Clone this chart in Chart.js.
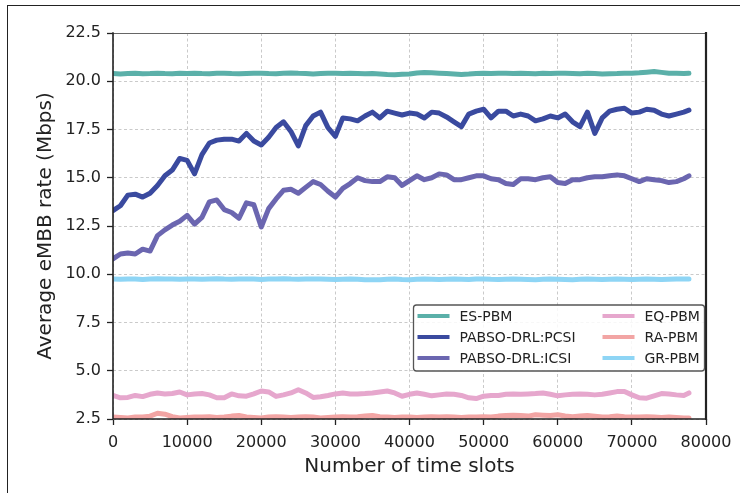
<!DOCTYPE html>
<html>
<head>
<meta charset="utf-8">
<script src="https://cdn.jsdelivr.net/npm/chart.js@4.4.0/dist/chart.umd.min.js"></script>
<style>
  html, body { margin: 0; padding: 0; background: #fff; overflow: hidden; }
  #wrap { position: relative; width: 740px; height: 493px; }
  #frame { position: absolute; left: 7px; top: 5px; width: 800px; height: 600px;
           border-left: 1.6px solid #222; border-top: 1.6px solid #222; pointer-events: none; }
  canvas { display: block; }
</style>
</head>
<body>
<div id="wrap">
  <canvas id="rate-chart" width="740" height="493"></canvas>
  <div id="frame"></div>
</div>
<script>
// time slot sampled every 1000 slots, last sample at the end of the run
const slots = [];
for (let i = 0; i < 78; i++) slots.push(i * 1000);
slots.push(77700);

const labels = ['ES-PBM', 'PABSO-DRL:PCSI', 'PABSO-DRL:ICSI', 'EQ-PBM', 'RA-PBM', 'GR-PBM'];
const colors = ['#5bb0a9', '#3a4a9f', '#6b66b0', '#e6a7cd', '#f2a5a4', '#8ed5f5'];

const esPbm = [
  20.40, 20.38, 20.40, 20.41, 20.39, 20.40, 20.42, 20.40, 20.39, 20.41,
  20.40, 20.42, 20.40, 20.39, 20.41, 20.42, 20.40, 20.39, 20.40, 20.41,
  20.42, 20.40, 20.39, 20.41, 20.43, 20.41, 20.40, 20.38, 20.40, 20.41,
  20.42, 20.40, 20.41, 20.40, 20.39, 20.40, 20.38, 20.35, 20.34, 20.36,
  20.38, 20.43, 20.45, 20.44, 20.42, 20.40, 20.38, 20.35, 20.37, 20.40,
  20.41, 20.40, 20.41, 20.42, 20.40, 20.41, 20.40, 20.39, 20.41, 20.40,
  20.42, 20.41, 20.40, 20.39, 20.41, 20.40, 20.38, 20.39, 20.40, 20.42,
  20.42, 20.44, 20.47, 20.50, 20.46, 20.42, 20.41, 20.40, 20.41
];
const pcsi = [
  13.30, 13.55, 14.10, 14.15, 14.00, 14.20, 14.60, 15.10, 15.40, 16.00,
  15.90, 15.20, 16.20, 16.80, 16.95, 17.00, 17.00, 16.90, 17.30, 16.90,
  16.70, 17.10, 17.60, 17.90, 17.40, 16.65, 17.70, 18.20, 18.40, 17.60,
  17.15, 18.10, 18.05, 17.95, 18.20, 18.40, 18.10, 18.45, 18.35, 18.25,
  18.35, 18.30, 18.10, 18.40, 18.35, 18.15, 17.90, 17.65, 18.30, 18.45,
  18.55, 18.10, 18.45, 18.45, 18.20, 18.30, 18.20, 17.95, 18.05, 18.20,
  18.10, 18.30, 17.90, 17.65, 18.40, 17.30, 18.10, 18.45, 18.55, 18.60,
  18.35, 18.40, 18.55, 18.50, 18.30, 18.20, 18.30, 18.40, 18.50
];
const icsi = [
  10.80, 11.05, 11.10, 11.05, 11.30, 11.20, 12.00, 12.30, 12.55, 12.75,
  13.05, 12.60, 12.95, 13.75, 13.85, 13.35, 13.20, 12.90, 13.70, 13.60,
  12.45, 13.40, 13.90, 14.35, 14.40, 14.20, 14.50, 14.80, 14.65, 14.30,
  14.00, 14.45, 14.70, 15.00, 14.85, 14.80, 14.80, 15.05, 15.00, 14.60,
  14.85, 15.10, 14.90, 15.00, 15.20, 15.15, 14.90, 14.90, 15.00, 15.10,
  15.10, 14.95, 14.90, 14.70, 14.65, 14.95, 14.95, 14.90, 15.00, 15.05,
  14.75, 14.70, 14.90, 14.90, 15.00, 15.05, 15.05, 15.10, 15.15, 15.10,
  14.95, 14.80, 14.95, 14.90, 14.85, 14.75, 14.80, 14.95, 15.10
];
const eqPbm = [
  3.72, 3.60, 3.62, 3.72, 3.66, 3.78, 3.85, 3.80, 3.82, 3.90,
  3.75, 3.80, 3.82, 3.75, 3.60, 3.60, 3.80, 3.70, 3.68, 3.80,
  3.95, 3.90, 3.67, 3.75, 3.85, 4.02, 3.85, 3.62, 3.65, 3.72,
  3.80, 3.85, 3.80, 3.80, 3.82, 3.85, 3.90, 3.95, 3.85, 3.68,
  3.78, 3.85, 3.78, 3.70, 3.75, 3.80, 3.78, 3.72, 3.60, 3.56,
  3.68, 3.72, 3.72, 3.78, 3.80, 3.78, 3.80, 3.82, 3.85, 3.78,
  3.70, 3.75, 3.78, 3.80, 3.78, 3.75, 3.78, 3.85, 3.92, 3.93,
  3.75, 3.60, 3.58, 3.70, 3.82, 3.80, 3.75, 3.72, 3.85
];
const raPbm = [
  2.60, 2.58, 2.55, 2.60, 2.60, 2.65, 2.80, 2.75, 2.62, 2.55,
  2.58, 2.60, 2.60, 2.62, 2.58, 2.60, 2.65, 2.68, 2.60, 2.58,
  2.55, 2.60, 2.62, 2.60, 2.58, 2.60, 2.62, 2.60, 2.55, 2.58,
  2.60, 2.62, 2.60, 2.62, 2.65, 2.68, 2.62, 2.60, 2.58, 2.60,
  2.60, 2.58, 2.60, 2.62, 2.60, 2.62, 2.60, 2.58, 2.60, 2.60,
  2.62, 2.60, 2.65, 2.68, 2.70, 2.68, 2.65, 2.72, 2.70, 2.68,
  2.72, 2.66, 2.62, 2.65, 2.68, 2.64, 2.60, 2.62, 2.65, 2.62,
  2.60, 2.60, 2.62, 2.60, 2.58, 2.60, 2.58, 2.55, 2.55
];
const grPbm = [
  9.75, 9.74, 9.76, 9.75, 9.73, 9.75, 9.77, 9.76, 9.75, 9.74,
  9.76, 9.75, 9.74, 9.76, 9.77, 9.75, 9.74, 9.75, 9.76, 9.75,
  9.73, 9.75, 9.76, 9.77, 9.75, 9.74, 9.75, 9.76, 9.75, 9.74,
  9.73, 9.74, 9.75, 9.74, 9.72, 9.71, 9.72, 9.74, 9.75, 9.73,
  9.72, 9.74, 9.75, 9.74, 9.73, 9.74, 9.75, 9.74, 9.73, 9.75,
  9.76, 9.74, 9.73, 9.74, 9.75, 9.74, 9.73, 9.72, 9.74, 9.75,
  9.74, 9.73, 9.72, 9.74, 9.75, 9.74, 9.73, 9.74, 9.75, 9.74,
  9.73, 9.74, 9.75, 9.74, 9.73, 9.74, 9.75, 9.76, 9.76
];
const seriesValues = [esPbm, pcsi, icsi, eqPbm, raPbm, grPbm];

const yTicks = [2.5, 5.0, 7.5, 10.0, 12.5, 15.0, 17.5, 20.0, 22.5];
const xTicks = [0, 10000, 20000, 30000, 40000, 50000, 60000, 70000, 80000];

const FONT = '"DejaVu Sans", "Liberation Sans", sans-serif';
const INK = '#222';

// axis frame: dark left/bottom/right spines, light top spine
const spines = {
  id: 'spines',
  afterDatasetsDraw(chart) {
    const { ctx, chartArea: a } = chart;
    ctx.save();
    ctx.lineCap = 'square';
    ctx.strokeStyle = '#666';
    ctx.lineWidth = 1.2;
    ctx.beginPath();
    ctx.moveTo(a.left, a.top + 0.5);
    ctx.lineTo(a.right, a.top + 0.5);
    ctx.stroke();
    ctx.strokeStyle = INK;
    ctx.lineWidth = 1.6;
    ctx.beginPath();
    ctx.moveTo(a.left, a.top);
    ctx.lineTo(a.left, a.bottom);
    ctx.lineTo(a.right, a.bottom);
    ctx.stroke();
    ctx.lineWidth = 2.2;
    ctx.beginPath();
    ctx.moveTo(a.right, a.top);
    ctx.lineTo(a.right, a.bottom);
    ctx.stroke();
    ctx.restore();
  }
};

// two-column legend box in the lower right of the plot
const boxLegend = {
  id: 'boxLegend',
  afterDatasetsDraw(chart) {
    const { ctx, chartArea: a } = chart;
    const sets = chart.data.datasets;
    const w = 291, h = 66;
    const x0 = a.right - w - 1.5, y0 = a.bottom - 114;
    ctx.save();
    ctx.beginPath();
    ctx.roundRect(x0, y0, w, h, 3);
    ctx.fillStyle = 'rgba(255,255,255,0.85)';
    ctx.fill();
    ctx.lineWidth = 1.3;
    ctx.strokeStyle = '#555';
    ctx.stroke();
    ctx.font = '14px ' + FONT;
    ctx.textBaseline = 'middle';
    sets.forEach((ds, k) => {
      const col = Math.floor(k / 3), row = k % 3;
      const lx = x0 + (col === 0 ? 4 : 189);
      const ly = y0 + 11 + row * 21;
      ctx.strokeStyle = ds.borderColor;
      ctx.lineWidth = 4;
      ctx.beginPath();
      ctx.moveTo(lx, ly);
      ctx.lineTo(lx + 32, ly);
      ctx.stroke();
      ctx.fillStyle = INK;
      ctx.fillText(ds.label, lx + 42, ly + 1);
    });
    ctx.restore();
  }
};

const datasets = labels.map((name, i) => ({
  label: name,
  data: slots.map((s, j) => ({ x: s, y: seriesValues[i][j] })),
  borderColor: colors[i],
  backgroundColor: colors[i],
  borderWidth: 5,
  pointRadius: 0,
  tension: 0,
  borderJoinStyle: 'round',
  borderCapStyle: 'round'
}));

new Chart(document.getElementById('rate-chart'), {
  type: 'line',
  data: { datasets },
  options: {
    responsive: false,
    animation: false,
    devicePixelRatio: 1,
    layout: { padding: { left: 33, right: 34, top: 33, bottom: 10 } },
    plugins: { legend: { display: false }, tooltip: { enabled: false } },
    scales: {
      x: {
        type: 'linear',
        min: 0,
        max: 80000,
        afterBuildTicks: s => { s.ticks = xTicks.map(v => ({ value: v })); },
        afterFit: s => { s.height = 64; },
        ticks: {
          color: INK,
          font: { family: FONT, size: 16 },
          padding: 8,
          maxRotation: 0,
          callback: v => String(v)
        },
        grid: { color: '#c4c4c4', lineWidth: 0.9, tickLength: 6, tickColor: INK, tickWidth: 1.3 },
        border: { display: false, dash: [3, 2.5] },
        title: {
          display: true,
          text: 'Number of time slots',
          color: INK,
          font: { family: FONT, size: 20 },
          padding: { top: 0, bottom: 4 }
        }
      },
      y: {
        type: 'linear',
        min: 2.5,
        max: 22.5,
        afterBuildTicks: s => { s.ticks = yTicks.map(v => ({ value: v })); },
        afterFit: s => { s.width = 80; },
        ticks: {
          color: INK,
          font: { family: FONT, size: 16 },
          padding: 6,
          callback: v => v.toFixed(1)
        },
        grid: { color: '#c4c4c4', lineWidth: 0.9, tickLength: 6, tickColor: INK, tickWidth: 1.3 },
        border: { display: false, dash: [3, 2.5] },
        title: {
          display: true,
          text: 'Average eMBB rate (Mbps)',
          color: INK,
          font: { family: FONT, size: 20 },
          padding: { top: 1, bottom: 0 }
        }
      }
    }
  },
  plugins: [spines, boxLegend]
});
</script>
</body>
</html>
